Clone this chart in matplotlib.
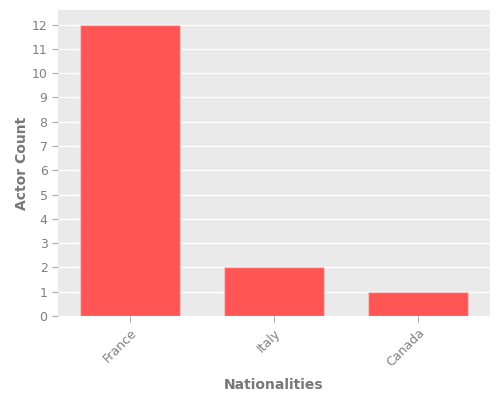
import matplotlib
matplotlib.use("Agg")
import matplotlib.pyplot as plt

categories = ["France", "Italy", "Canada"]
counts = [12, 2, 1]

fig = plt.figure(figsize=(5, 4), dpi=100)
ax = fig.add_axes([0.116, 0.21, 0.864, 0.765])
ax.set_facecolor("#EAEAEA")
ax.bar(range(len(categories)), counts, width=0.7, color="#FF5555",
       edgecolor=(1, 1, 1, 0.35), linewidth=1, zorder=3)
ax.set_xlim(-0.5, 2.5)
ax.set_ylim(0, 12.6)
ax.set_yticks(range(0, 13))
ax.set_xticks(range(len(categories)))
ax.set_xticklabels(categories, rotation=45, ha="right", rotation_mode="anchor")
ax.grid(axis="y", color="white", linewidth=1, zorder=0)
ax.set_axisbelow(True)
for s in ax.spines.values():
    s.set_visible(False)
ax.tick_params(axis="both", colors="#AAAAAA", labelcolor="#808080", labelsize=9, length=4)
ax.set_xlabel("Nationalities", color="#777777", fontsize=10, fontweight="bold", labelpad=6)
ax.set_ylabel("Actor Count", color="#777777", fontsize=10, fontweight="bold", labelpad=2)
fig.savefig("out.png", dpi=100)
